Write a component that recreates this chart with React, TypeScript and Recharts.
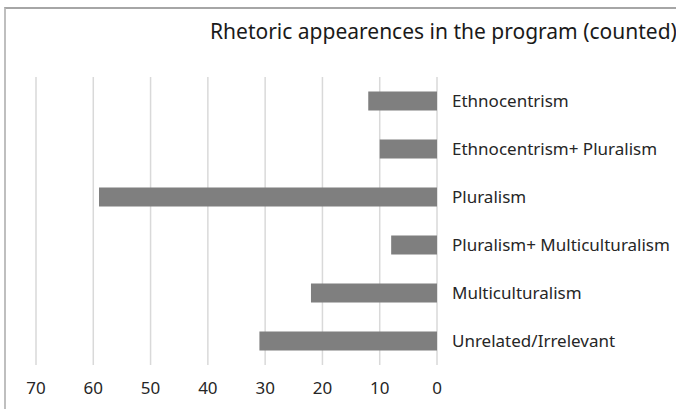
import { BarChart, Bar, XAxis, YAxis, CartesianGrid } from "recharts";

const categories = [
  "Ethnocentrism",
  "Ethnocentrism+ Pluralism",
  "Pluralism",
  "Pluralism+ Multiculturalism",
  "Multiculturalism",
  "Unrelated/Irrelevant",
];
const counts = [12, 10, 59, 8, 22, 31];
const xTicks = [0, 10, 20, 30, 40, 50, 60, 70];

const data = categories.map((name, i) => ({ name, count: counts[i] }));

const FONT = "'Noto Sans', sans-serif";

export default function App() {
  return (
    <div
      style={{
        position: "absolute",
        left: 0,
        top: 0,
        width: 676,
        height: 409,
        background: "#fff",
        overflow: "hidden",
        fontFamily: FONT,
      }}
    >
      <div
        style={{
          position: "absolute",
          left: 4,
          top: 7,
          width: 700,
          height: 420,
          borderTop: "2px solid #a6a6a6",
          borderLeft: "2px solid #bfbfbf",
        }}
      />
      <div
        style={{
          position: "absolute",
          left: 210,
          top: 17,
          whiteSpace: "nowrap",
          fontSize: 21,
          color: "#1a1a1a",
        }}
      >
        Rhetoric appearences in the program (counted)
      </div>
      <div style={{ position: "absolute", left: 0, top: 0 }}>
        <BarChart
          width={676}
          height={409}
          data={data}
          layout="vertical"
          margin={{ top: 77, right: 0, bottom: 14, left: 36 }}
          barCategoryGap="30%"
        >
          <CartesianGrid horizontal={false} stroke="#d9d9d9" strokeWidth={1.5} />
          <XAxis
            type="number"
            domain={[0, 70]}
            ticks={xTicks}
            reversed
            axisLine={false}
            tickLine={false}
            tickSize={0}
            tickMargin={17}
            height={30}
            interval={0}
            tick={{ fill: "#262626", fontSize: 17, fontFamily: FONT }}
          />
          <YAxis
            type="category"
            dataKey="name"
            orientation="right"
            width={239}
            axisLine={false}
            tickLine={false}
            tickSize={0}
            tickMargin={15}
            interval={0}
            tick={{ fill: "#262626", fontSize: 17, fontFamily: FONT }}
          />
          <Bar dataKey="count" fill="#7f7f7f" isAnimationActive={false} />
        </BarChart>
      </div>
    </div>
  );
}
